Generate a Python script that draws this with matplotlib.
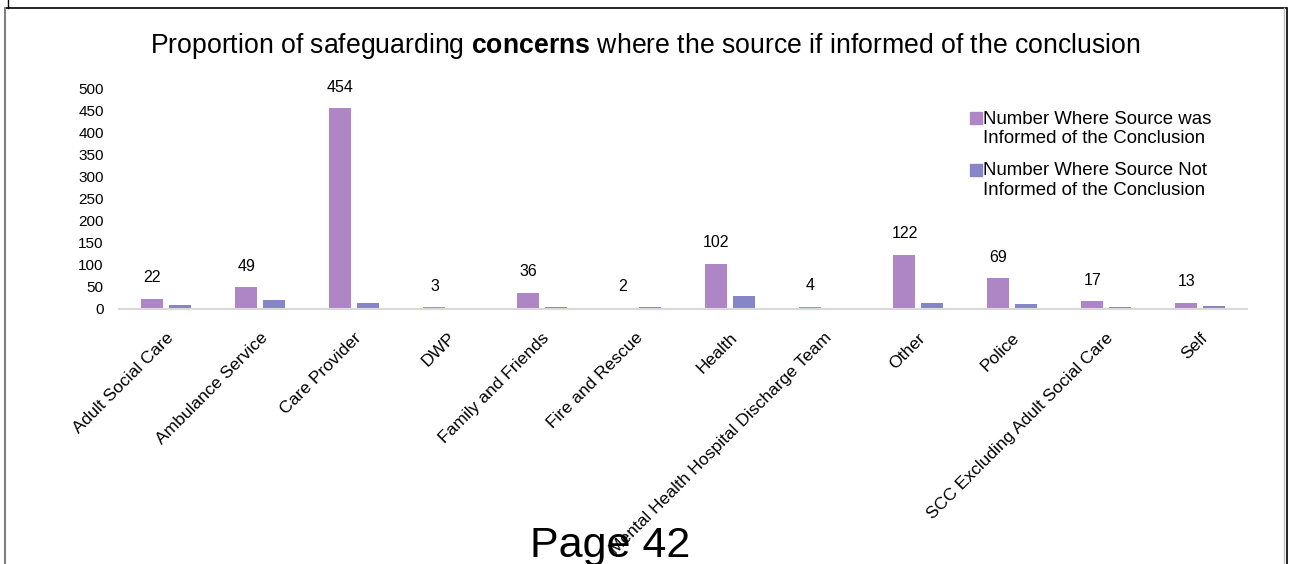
import matplotlib
matplotlib.use("Agg")
import matplotlib.pyplot as plt
import numpy as np
from matplotlib.lines import Line2D
from matplotlib.patches import Rectangle
from matplotlib.legend_handler import HandlerPatch
from matplotlib.transforms import ScaledTranslation

plt.rcParams['font.family'] = ['Liberation Sans', 'DejaVu Sans']
plt.rcParams['mathtext.fontset'] = 'custom'
plt.rcParams['mathtext.rm'] = 'Liberation Sans'
plt.rcParams['mathtext.bf'] = 'Liberation Sans:bold'

categories = ["Adult Social Care", "Ambulance Service", "Care Provider", "DWP",
              "Family and Friends", "Fire and Rescue", "Health",
              "Mental Health Hospital Discharge Team", "Other", "Police",
              "SCC Excluding Adult Social Care", "Self"]
informed = [22, 49, 454, 3, 36, 2, 102, 4, 122, 69, 17, 13]
not_informed = [8, 19, 13, 0, 3, 3, 28, 0, 13, 10, 3, 5]
series_names = ["Number Where Source was\nInformed of the Conclusion",
                "Number Where Source Not\nInformed of the Conclusion"]
yticks = [0, 50, 100, 150, 200, 250, 300, 350, 400, 450, 500]

c_purple = "#AE85C5"
c_blue = "#8585C8"

fig = plt.figure(figsize=(12.9, 5.64), dpi=100)
ax = fig.add_axes([119/1290, 1 - 308.5/564, (1247-119)/1290, (308.5-88)/564])

x = np.arange(len(categories))
w = 0.234
off = 0.144
ax.bar(x - off, informed, w, color=c_purple)
ax.bar(x + off, not_informed, w, color=c_blue)

for xi, v in zip(x - off, informed):
    ax.annotate(str(v), (xi, v), xytext=(0, 15), textcoords="offset points",
                ha="center", va="center", fontsize=11.5)

ax.set_xlim(-0.5, len(categories) - 0.5)
ax.set_ylim(0, 500)
ax.set_yticks(yticks)
ax.set_yticklabels([str(t) for t in yticks], fontsize=11)
ax.tick_params(axis='y', length=0, pad=11)
ax.tick_params(axis='x', length=0)
ax.set_xticks(x)
ax.set_xticklabels(categories, rotation=45, ha='right', va='center',
                   rotation_mode='anchor', fontsize=12.6)
for lbl in ax.get_xticklabels():
    lbl.set_transform(lbl.get_transform() + ScaledTranslation(5/100, -22/100, fig.dpi_scale_trans))

for s in ["top", "right", "left"]:
    ax.spines[s].set_visible(False)
ax.spines["bottom"].set_color("#D9D9D9")
ax.spines["bottom"].set_linewidth(1.5)

fig.text(0.5 * (148 + 1142) / 1290, 1 - 46/564,
         "Proportion of safeguarding $\\bf{concerns}$ where the source if informed of the conclusion",
         ha="center", va="center", fontsize=19.2)


def top_square(legend, orig_handle, xdescent, ydescent, width, height, fontsize):
    s = height
    return Rectangle((-xdescent + width - s, -ydescent + 7.5), s, s)


handles = [Rectangle((0, 0), 1, 1, color=c_purple), Rectangle((0, 0), 1, 1, color=c_blue)]
leg = ax.legend(handles=handles, labels=series_names,
                loc="upper left", bbox_to_anchor=(971/1290, 1 - 110.5/564),
                bbox_transform=fig.transFigure, frameon=False, fontsize=13.4,
                handlelength=0.6, handleheight=0.6, handletextpad=0.05,
                labelspacing=0.8, borderpad=0, borderaxespad=0,
                handler_map={Rectangle: HandlerPatch(patch_func=top_square)})

fig.text(610/1290, 1 - 557/564, "Page 42", ha="center", va="baseline", fontsize=31)

# page frame lines
fig.add_artist(Line2D([5/1290, 1286/1290], [1 - 8/564, 1 - 8/564], color="black", lw=1.2, transform=fig.transFigure))
fig.add_artist(Line2D([4.5/1290, 4.5/1290], [0, 1 - 8/564], color="#808080", lw=1.5, transform=fig.transFigure))
fig.add_artist(Line2D([8/1290, 8/1290], [1 - 8/564, 1], color="black", lw=1, transform=fig.transFigure))
fig.add_artist(Line2D([1284/1290, 1284/1290], [0, 1 - 8/564], color="#C0C0C0", lw=1, transform=fig.transFigure))
fig.add_artist(Line2D([1286.5/1290, 1286.5/1290], [0, 1 - 8/564], color="black", lw=1.2, transform=fig.transFigure))

fig.savefig("out.png", dpi=100)
